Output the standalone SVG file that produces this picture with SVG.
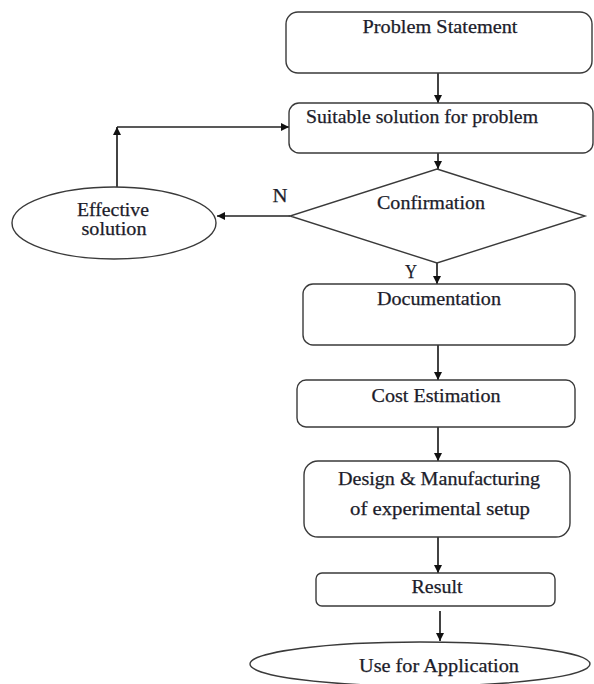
<svg xmlns="http://www.w3.org/2000/svg" width="594" height="684" viewBox="0 0 594 684">
<defs>
<style>
.box{fill:#fff;stroke:#3a3a3a;stroke-width:1.4}
.t{font-family:"Liberation Serif","Times New Roman",serif;font-size:18px;fill:#1c1c2a;stroke:#1c1c2a;stroke-width:0.25;text-anchor:middle}
.c{fill:none;stroke:#222;stroke-width:1.7}
</style>
<marker id="ah" viewBox="0 0 10 10" refX="10" refY="5" markerWidth="8" markerHeight="8" markerUnits="userSpaceOnUse" orient="auto">
<path d="M0,0 L10,5 L0,10 Z" fill="#111"/>
</marker>
</defs>
<rect width="594" height="684" fill="#fff"/>
<g id="connectors">
<line class="c" x1="438" y1="73" x2="438" y2="103" marker-end="url(#ah)"/>
<line class="c" x1="438" y1="153" x2="438" y2="169" marker-end="url(#ah)"/>
<line class="c" x1="290" y1="216" x2="217" y2="216" marker-end="url(#ah)"/>
<line class="c" x1="117" y1="187" x2="117" y2="127" marker-end="url(#ah)"/>
<line class="c" x1="117" y1="127" x2="289" y2="127" marker-end="url(#ah)"/>
<line class="c" x1="437" y1="263" x2="437" y2="284" marker-end="url(#ah)"/>
<line class="c" x1="438" y1="345" x2="438" y2="380" marker-end="url(#ah)"/>
<line class="c" x1="438" y1="427" x2="438" y2="461" marker-end="url(#ah)"/>
<line class="c" x1="438" y1="537" x2="438" y2="573" marker-end="url(#ah)"/>
<line class="c" x1="440" y1="611" x2="440" y2="641" marker-end="url(#ah)"/>
<text class="t" x="280" y="202" textLength="15" lengthAdjust="spacingAndGlyphs">N</text>
<text class="t" x="411" y="278" textLength="12" lengthAdjust="spacingAndGlyphs">Y</text>
</g>
<g id="problem-statement">
<rect class="box" x="286" y="12" width="306" height="61" rx="12"/>
<text class="t" x="440" y="33" textLength="155" lengthAdjust="spacingAndGlyphs">Problem Statement</text>
</g>
<g id="suitable-solution">
<rect class="box" x="289" y="103" width="304" height="50" rx="10"/>
<text class="t" x="422" y="123" textLength="232" lengthAdjust="spacingAndGlyphs">Suitable solution for problem</text>
</g>
<g id="confirmation">
<polygon class="box" points="437,169 585,216 437,263 290,216"/>
<text class="t" x="431" y="209" textLength="108" lengthAdjust="spacingAndGlyphs">Confirmation</text>
</g>
<g id="effective-solution">
<ellipse class="box" cx="114" cy="223" rx="102" ry="36"/>
<text class="t" x="113" y="216" textLength="72" lengthAdjust="spacingAndGlyphs">Effective</text>
<text class="t" x="114" y="235" textLength="65" lengthAdjust="spacingAndGlyphs">solution</text>
</g>
<g id="documentation">
<rect class="box" x="303" y="284" width="272" height="61" rx="10"/>
<text class="t" x="439" y="305" textLength="124" lengthAdjust="spacingAndGlyphs">Documentation</text>
</g>
<g id="cost-estimation">
<rect class="box" x="297" y="380" width="278" height="47" rx="9"/>
<text class="t" x="436" y="402" textLength="129" lengthAdjust="spacingAndGlyphs">Cost Estimation</text>
</g>
<g id="design-manufacturing">
<rect class="box" x="304" y="461" width="266" height="76" rx="14"/>
<text class="t" x="439" y="485" textLength="202" lengthAdjust="spacingAndGlyphs">Design &amp; Manufacturing</text>
<text class="t" x="440" y="515" textLength="180" lengthAdjust="spacingAndGlyphs">of experimental setup</text>
</g>
<g id="result">
<rect class="box" x="316" y="573" width="239" height="33" rx="6"/>
<text class="t" x="437" y="593" textLength="51" lengthAdjust="spacingAndGlyphs">Result</text>
</g>
<g id="use-for-application">
<ellipse class="box" cx="420" cy="664" rx="170" ry="22"/>
<text class="t" x="439" y="672" textLength="160" lengthAdjust="spacingAndGlyphs">Use for Application</text>
</g>
</svg>
